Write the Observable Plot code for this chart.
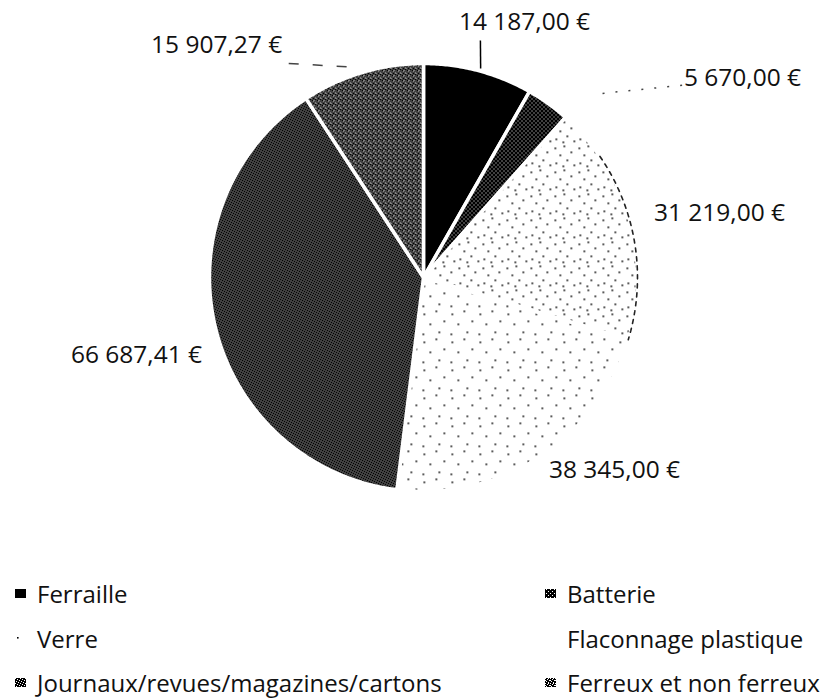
<!DOCTYPE html>
<html><head><meta charset="utf-8">
<script src="https://cdn.jsdelivr.net/npm/d3@7"></script>
<script src="https://cdn.jsdelivr.net/npm/@observablehq/plot@0.6"></script>
<style>
body{margin:0;background:#fff;width:821px;height:698px;overflow:hidden;font-family:"Open Sans",sans-serif;}
#legend{display:grid;grid-template-columns:530px 276px;grid-auto-rows:44.5px;padding-left:15px;padding-top:11.5px;}
.item{display:flex;align-items:center;font-size:24px;color:#111;white-space:nowrap;}
.item svg{margin-right:11px;flex:none;}
</style></head><body>
<div id="chart"></div>
<div id="legend"></div>
<script>
// ---- data ----
const categories = ["Ferraille", "Batterie", "Verre", "Flaconnage plastique", "Journaux/revues/magazines/cartons", "Ferreux et non ferreux"];
const values = [14187.00, 5670.00, 31219.00, 38345.00, 66687.41, 15907.27];

// ---- styles / layout (not data) ----
const fills = ["#000", "url(#p-batt)", "url(#p-verre)", "url(#p-flac)", "url(#p-journ)", "url(#p-fer)"];
const swatchFills = ["#000", "url(#p-batt)", "url(#p-verre)", "none", "url(#p-journ)", "url(#p-fer)"];
const labelAngle = [21.6, 58.05, 77.8, 135.3, 254.8, 318.3];   // degrees, clockwise from top
const labelRadius = [1.282, 1.757, 1.415, 1.269, 1.39, 1.453];
const leaderDefs = [
  {a1: 15.3, r1: 1.012, a2: 13.5, r2: 1.139, dash: null, stroke: "#000", w: 1.5},
  {a1: 44.2, r1: 1.20, a2: 53.4, r2: 1.507, dash: "2 11", stroke: "#444", w: 1.5},
  {a1: 327.8, r1: 1.182, a2: 343.3, r2: 1.024, dash: "10 14", stroke: "#444", w: 1.5}
];

const fmt = d3.formatLocale({decimal: ",", thousands: " ", grouping: [3], currency: ["", " €"]}).format("$,.2f");
const rad = d => d * Math.PI / 180;
const polar = (a, r) => ({x: r * Math.sin(a), y: r * Math.cos(a)});

const arcs = d3.pie().sort(null).value(d => d)(values);
const polys = arcs.map(a => {
  const n = Math.max(2, Math.ceil((a.endAngle - a.startAngle) / rad(0.5)));
  const pts = [{x: 0, y: 0}];
  for (let k = 0; k <= n; k++) pts.push(polar(a.startAngle + (a.endAngle - a.startAngle) * k / n, 1));
  pts.push({x: 0, y: 0});
  return pts;
});
// thin dashed outline on the Verre arc
const verre = arcs[2];
const verreArc = d3.range(0, 41).map(k => polar(verre.startAngle + rad(14) + (verre.endAngle - verre.startAngle - rad(14)) * k / 40, 1));

const labels = values.map((v, i) => ({...polar(rad(labelAngle[i]), labelRadius[i]), text: fmt(v)}));
const leaders = leaderDefs.map(d => {
  const p1 = polar(rad(d.a1), d.r1), p2 = polar(rad(d.a2), d.r2);
  return {...d, x1: p1.x, y1: p1.y, x2: p2.x, y2: p2.y};
});

const cx = 423, cy = 277, R = 214;
const plot = Plot.plot({
  width: 821, height: 560, margin: 0,
  x: {domain: [-1, 1], range: [cx - R, cx + R], axis: null},
  y: {domain: [-1, 1], range: [cy + R, cy - R], axis: null},
  marks: [
    ...polys.map((p, i) => Plot.line(p, {x: "x", y: "y", fill: fills[i], stroke: "white", strokeWidth: 3.5, strokeLinejoin: "round"})),
    Plot.line(verreArc, {x: "x", y: "y", stroke: "#222", strokeWidth: 1.6, strokeDasharray: "4 5"}),
    ...leaders.map(d => Plot.link([d], {x1: "x1", y1: "y1", x2: "x2", y2: "y2", stroke: d.stroke, strokeWidth: d.w, strokeDasharray: d.dash})),
    Plot.text(labels, {x: "x", y: "y", text: "text", fontSize: 24.5, fontFamily: "Open Sans", fill: "#111"})
  ]
});

d3.select(plot).insert("defs", ":first-child").html(`
  <pattern id="p-batt" width="4" height="4" patternUnits="userSpaceOnUse">
    <rect width="4" height="4" fill="#000"/><rect x="1" y="0" width="1" height="1" fill="#fff"/><rect x="3" y="2" width="1" height="1" fill="#fff"/>
  </pattern>
  <pattern id="p-journ" width="5" height="5" patternUnits="userSpaceOnUse">
    <rect width="5" height="5" fill="#000"/>
    <rect x="0" y="0" width="1" height="1" fill="#fff"/><rect x="2" y="1" width="1" height="1" fill="#fff"/>
    <rect x="4" y="2" width="1" height="1" fill="#fff"/><rect x="1" y="3" width="1" height="1" fill="#fff"/>
    <rect x="3" y="4" width="1" height="1" fill="#fff"/>
  </pattern>
  <pattern id="p-fer" width="5" height="5" patternUnits="userSpaceOnUse">
    <rect width="5" height="5" fill="#000"/>
    <rect x="0" y="0" width="1" height="1" fill="#fff"/><rect x="2" y="1" width="1" height="1" fill="#fff"/>
    <rect x="4" y="2" width="1" height="1" fill="#fff"/><rect x="1" y="3" width="1" height="1" fill="#fff"/>
    <rect x="3" y="4" width="1" height="1" fill="#fff"/><rect x="3" y="0" width="1" height="1" fill="#fff"/>
    <rect x="0" y="2" width="1" height="1" fill="#fff"/>
  </pattern>
  <pattern id="p-verre" width="24" height="24" patternUnits="userSpaceOnUse">
    <rect width="24" height="24" fill="#fff"/>
    <rect x="2" y="3" width="1.6" height="1.6" fill="#000"/><rect x="11" y="1" width="1.6" height="1.6" fill="#000"/>
    <rect x="18" y="7" width="1.6" height="1.6" fill="#000"/><rect x="7" y="10" width="1.6" height="1.6" fill="#000"/>
    <rect x="14" y="15" width="1.6" height="1.6" fill="#000"/><rect x="3" y="18" width="1.6" height="1.6" fill="#000"/>
    <rect x="21" y="20" width="1.6" height="1.6" fill="#000"/><rect x="10" y="21" width="1.6" height="1.6" fill="#000"/>
  </pattern>
  <pattern id="p-flac" width="28" height="28" patternUnits="userSpaceOnUse">
    <rect width="28" height="28" fill="#fff"/>
    <rect x="3" y="5" width="1.6" height="1.6" fill="#000"/><rect x="15" y="2" width="1.6" height="1.6" fill="#000"/>
    <rect x="23" y="12" width="1.6" height="1.6" fill="#000"/><rect x="9" y="15" width="1.6" height="1.6" fill="#000"/>
    <rect x="18" y="23" width="1.6" height="1.6" fill="#000"/><rect x="2" y="25" width="1.6" height="1.6" fill="#000"/>
  </pattern>`);

document.getElementById("chart").append(plot);

const legend = document.getElementById("legend");
categories.forEach((c, i) => {
  const item = document.createElement("div");
  item.className = "item";
  item.innerHTML = `<svg width="11" height="9"><rect width="11" height="9" fill="${swatchFills[i]}"/></svg><span>${c}</span>`;
  legend.append(item);
});
</script>
</body></html>
